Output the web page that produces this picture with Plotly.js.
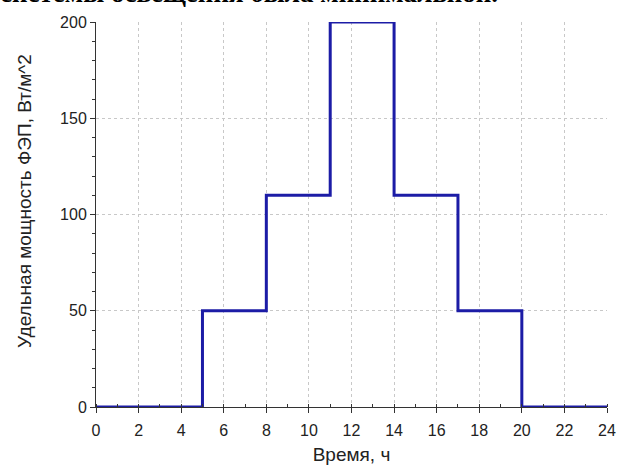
<!DOCTYPE html>
<html>
<head>
<meta charset="utf-8">
<script src="https://cdn.plot.ly/plotly-3.0.1.min.js"></script>
<style>html,body{margin:0;padding:0;background:#fff;}#chart{width:617px;height:467px;}</style>
</head>
<body>
<div id="chart"></div>
<script>
const hours = [0, 5, 8, 11, 14, 17, 20, 24];
const power = [0, 50, 110, 200, 110, 50, 0, 0];
const xTitle = 'Время, ч';
const yTitle = 'Удельная мощность ФЭП, Вт/м^2';
const topText = 'системы освещения была минимальной.';

const trace = {
  x: hours, y: power, type: 'scatter', mode: 'lines',
  line: {shape: 'hv', color: '#1c1ca6', width: 3},
  cliponaxis: false, hoverinfo: 'skip'
};

const fam = 'Liberation Sans, Arial, sans-serif';
const tickFont = {family: fam, size: 16, color: '#222'};
const L = 96, R = 10, T = 22, B = 60;
const plotW = 617 - L - R;
const plotH = 467 - T - B;
const layout = {
  width: 617, height: 467,
  margin: {l: L, r: R, t: T, b: B},
  paper_bgcolor: '#fff', plot_bgcolor: '#fff',
  showlegend: false,
  xaxis: {
    range: [0, 24], dtick: 2, tick0: 0,
    showline: true, linecolor: '#333', linewidth: 1,
    ticks: 'outside', ticklen: 5, tickcolor: '#333',
    minor: {dtick: 1, ticks: 'inside', ticklen: 3, tickcolor: '#333', showgrid: false},
    showgrid: true, gridcolor: '#c8c8c8', griddash: 'dot', gridwidth: 1,
    zeroline: false, tickfont: tickFont, ticklabeloverflow: 'allow', ticklabelstandoff: 4,
    title: {text: xTitle, font: {family: fam, size: 19, color: '#222'}, standoff: 9}
  },
  yaxis: {
    range: [0, 200], dtick: 50, tick0: 0,
    showline: true, linecolor: '#333', linewidth: 1,
    ticks: 'outside', ticklen: 5, tickcolor: '#333',
    minor: {dtick: 10, ticks: 'outside', ticklen: 3, tickcolor: '#333', showgrid: false},
    showgrid: true, gridcolor: '#c8c8c8', griddash: 'dot', gridwidth: 1,
    zeroline: false, tickfont: tickFont, ticklabeloverflow: 'allow'
  },
  annotations: [{
    text: yTitle, textangle: -90, xref: 'paper', yref: 'paper',
    x: 0, xshift: 24 - L, xanchor: 'center', y: (467 - B - 201) / plotH, yanchor: 'middle',
    showarrow: false, font: {family: fam, size: 19, color: '#222'}
  }, {
    text: topText, xref: 'paper', yref: 'paper', x: (500 - L) / plotW, y: 1, xanchor: 'right', yanchor: 'bottom',
    yshift: 12, showarrow: false,
    font: {family: 'Liberation Serif, Times New Roman, serif', size: 27, color: '#000', weight: 'bold'}
  }]
};

Plotly.newPlot('chart', [trace], layout, {displayModeBar: false, staticPlot: true});
</script>
</body>
</html>
